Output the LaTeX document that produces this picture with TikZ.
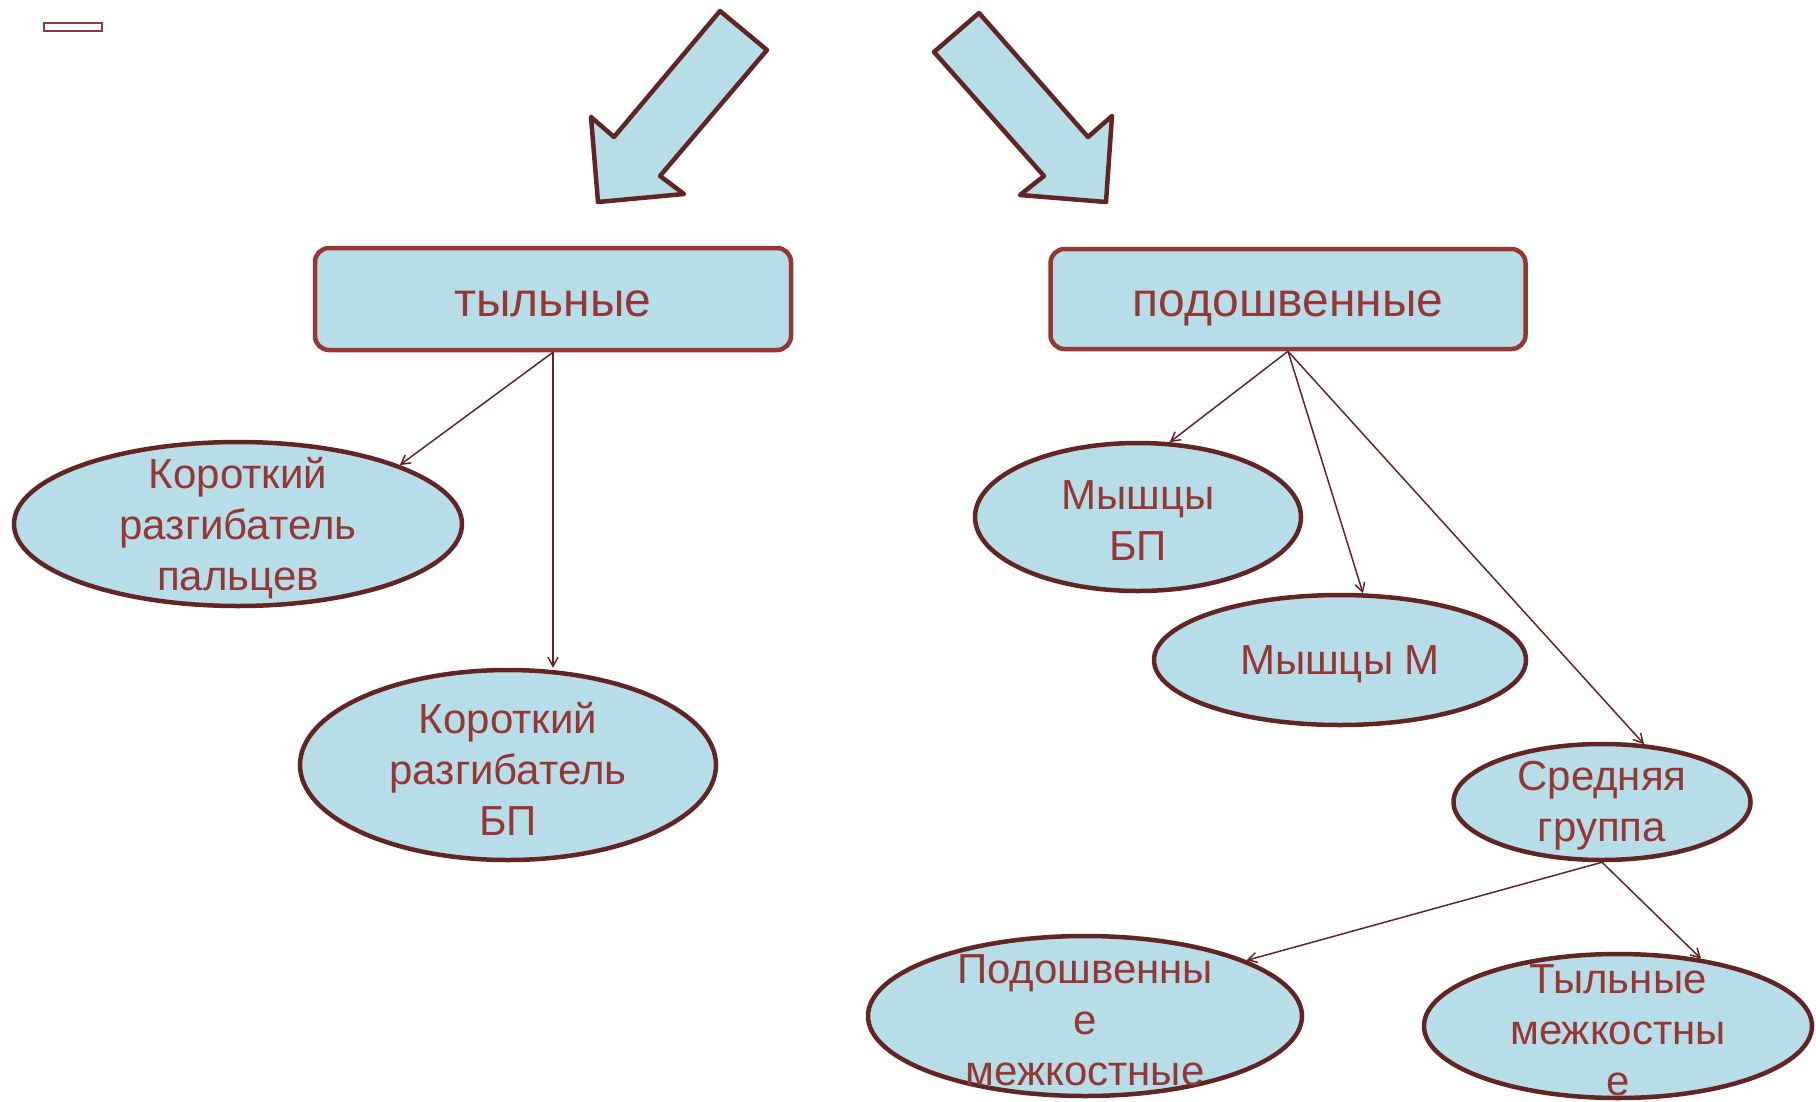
\documentclass[tikz,border=0pt]{standalone}
\usepackage{fontspec}
\setmainfont{Liberation Sans}
\usetikzlibrary{shapes.geometric,arrows.meta}
\definecolor{fillblue}{HTML}{B7DDE8}
\definecolor{txtred}{HTML}{953735}
\definecolor{darkred}{HTML}{632523}
\begin{document}
\begin{tikzpicture}[x=1pt,y=-1pt,
  oval/.style={ellipse, draw=darkred, line width=4.5pt, fill=fillblue, inner sep=0pt},
  ovaltext/.style={text=txtred, align=center, font=\fontsize{42}{51}\selectfont, inner sep=0pt, yshift=-4pt},
  headbox/.style={rounded corners=14pt, draw=txtred, line width=4.5pt, fill=fillblue, text=txtred, font=\fontsize{48}{58}\selectfont, inner sep=0pt, text height=34pt, text depth=0pt},
  link/.style={draw=darkred, line width=1.5pt, -{Straight Barb[length=9pt,width=10pt]}},
  blockarrow/.style={draw=darkred, line width=4.5pt, fill=fillblue, line join=round}]

\useasboundingbox (0,0) rectangle (1816,1101);

% small rectangle top-left
\node[draw=txtred, line width=2.5pt, minimum width=58pt, minimum height=8pt, inner sep=0pt] (smallbox) at (73,27) {};

% block arrows
\draw[blockarrow] (720,11) -- (767,50) -- (660,176) -- (684,194) -- (598,202) -- (591,117) -- (614,137) -- cycle;
\draw[blockarrow] (979,13) -- (934,52) -- (1044,176) -- (1020,195) -- (1106,202) -- (1112,116) -- (1088,137) -- cycle;

% header boxes
\node[headbox, minimum width=476pt, minimum height=102pt] (dorsal) at (553,299) {тыльные};
\node[headbox, minimum width=475pt, minimum height=100pt] (plantar) at (1288,299) {подошвенные};

% ellipses
\node[oval, minimum width=448pt, minimum height=164pt] (e1) at (238,524) {};
\node[oval, minimum width=416pt, minimum height=190pt] (e2) at (508,765) {};
\node[oval, minimum width=326pt, minimum height=148pt] (e3) at (1138,517) {};
\node[oval, minimum width=372pt, minimum height=130pt] (e4) at (1340,660) {};
\node[oval, minimum width=297pt, minimum height=116pt] (e5) at (1602,802) {};
\node[oval, minimum width=388pt, minimum height=144pt] (e6) at (1618,1026) {};
\node[oval, minimum width=434pt, minimum height=160pt] (e7) at (1085,1016) {};

% texts
\node[ovaltext] (e1t) at (e1.center) {Короткий\\разгибатель\\пальцев};
\node[ovaltext] (e2t) at (e2.center) {Короткий\\разгибатель\\БП};
\node[ovaltext] (e3t) at (e3.center) {Мышцы\\БП};
\node[ovaltext] (e4t) at (e4.center) {Мышцы М};
\node[ovaltext] (e5t) at (e5.center) {Средняя\\группа};
\node[ovaltext] (e6t) at (e6.center) {Тыльные\\межкостны\\е};
\node[ovaltext] (e7t) at (e7.center) {Подошвенны\\е\\межкостные};

% connectors
\draw[link] (dorsal.south) -- (e1.20);
\draw[link] (dorsal.south) -- (dorsal.south |- e2.north);
\draw[link] (plantar.south) -- (e3.67);
\draw[link] (plantar.south) -- (e4.71);
\draw[link] (plantar.south) -- (e5.54);
\draw[link] (e5.south) -- (e7.19);
\draw[link] (e5.south) -- (e6.39);
\end{tikzpicture}
\end{document}
